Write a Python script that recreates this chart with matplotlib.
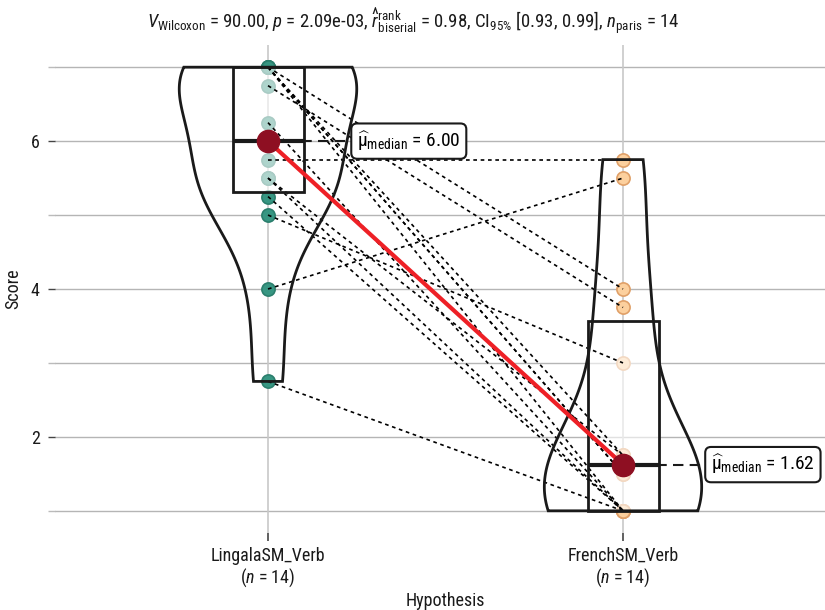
import numpy as np
import matplotlib
matplotlib.use("Agg")
import matplotlib.pyplot as plt
from matplotlib import font_manager
from matplotlib.patches import Polygon, Rectangle

# ---- data -----------------------------------------------------------------
categories = ["LingalaSM_Verb", "FrenchSM_Verb"]
lingala = [2.75, 4.0, 5.75, 5.0, 7.0, 6.75, 7.0, 7.0, 7.0, 7.0, 6.25, 5.5, 5.5, 5.25]
french = [1.0, 5.5, 5.75, 3.0, 4.0, 3.75, 1.75, 1.5, 1.0, 1.5, 1.0, 1.75, 1.0, 1.0]
y_ticks = [2, 4, 6]
y_minor = [1, 3, 5, 7]
stat_title = (r"$V_{\mathrm{Wilcoxon}}$ = 90.00, $p$ = 2.09e-03, "
              r"$\widehat{r}_{\mathrm{biserial}}^{\mathrm{rank}}$ = 0.98, "
              r"CI$_{\mathrm{95\%}}$ [0.93, 0.99], $n_{\mathrm{paris}}$ = 14")
x_title = "Hypothesis"
y_title = "Score"

# ---- fonts ----------------------------------------------------------------
def first_font(names):
    for n in names:
        try:
            font_manager.findfont(n, fallback_to_default=False)
            return n
        except Exception:
            pass
    return "DejaVu Sans"

fam = first_font(["Roboto Condensed", "Liberation Sans Narrow", "DejaVu Sans Condensed", "Roboto"])
plt.rcParams["font.family"] = [fam, "DejaVu Sans"]
plt.rcParams["mathtext.fontset"] = "custom"
plt.rcParams["mathtext.rm"] = fam
plt.rcParams["mathtext.it"] = fam + ":italic"
plt.rcParams["mathtext.bf"] = fam + ":bold"

# ---- helpers --------------------------------------------------------------
def q7(x, p):
    return float(np.quantile(np.asarray(x, float), p))

def bw_nrd0(x):
    x = np.asarray(x, float)
    hi = x.std(ddof=1)
    iqr = q7(x, 0.75) - q7(x, 0.25)
    lo = min(hi, iqr / 1.34)
    return 0.9 * lo * len(x) ** (-0.2)

def kde(x, grid):
    x = np.asarray(x, float)
    bw = bw_nrd0(x)
    z = (grid[:, None] - x[None, :]) / bw
    return np.exp(-0.5 * z ** 2).sum(axis=1) / (len(x) * bw * np.sqrt(2 * np.pi))

groups = [lingala, french]
pos = [1, 2]
pt_face = ["#379682", "#fcd09e"]
pt_edge = ["#2b7f6d", "#e0a068"]

fig = plt.figure(figsize=(8.25, 6.10), dpi=100)
ax = fig.add_axes([55 / 825, (610 - 533) / 610, (836 - 55) / 825, 488 / 610])
ax.set_xlim(0.4, 2.6)
ax.set_ylim(0.7, 7.3)

# grid
for v in y_ticks + y_minor:
    ax.axhline(v, color="#b5b5b5", lw=1.0, zorder=0)
for p in pos:
    ax.axvline(p, color="#c8c8c8", lw=1.2, zorder=0)

# violins (area-scaled, trimmed to data range)
grids = [np.linspace(min(g), max(g), 512) for g in groups]
dens = [kde(g, gr) for g, gr in zip(groups, grids)]
dmax = max(d.max() for d in dens)
for p, gr, d in zip(pos, grids, dens):
    w = 0.25 * d / dmax
    xs = np.concatenate([p - w, (p + w)[::-1]])
    ys = np.concatenate([gr, gr[::-1]])
    ax.add_patch(Polygon(np.column_stack([xs, ys]), closed=True, fill=False,
                         ec="#1a1a1a", lw=2.0, zorder=5))

# raw points
for p, g, fc, ec in zip(pos, groups, pt_face, pt_edge):
    ax.plot([p] * len(g), g, "o", ms=9.5, mfc=fc, mec=ec, mew=1.2, zorder=2)

# boxes (semi-transparent white fill over the points)
bw_box = 0.2
for p, g in zip(pos, groups):
    q1, med, q3 = q7(g, 0.25), q7(g, 0.5), q7(g, 0.75)
    ax.add_patch(Rectangle((p - bw_box / 2, q1), bw_box, q3 - q1, fc="white",
                           alpha=0.6, ec="none", zorder=3))
    ax.add_patch(Rectangle((p - bw_box / 2, q1), bw_box, q3 - q1, fill=False,
                           ec="#1a1a1a", lw=2.0, zorder=5))
    ax.plot([p - bw_box / 2, p + bw_box / 2], [med, med], color="#1a1a1a",
            lw=3.0, solid_capstyle="butt", zorder=5)

# paired lines
for a, b in zip(lingala, french):
    ax.plot([1, 2], [a, b], color="black", lw=1.2, ls=(0, (2.2, 2.2)), zorder=4)

# medians
meds = [float(np.median(g)) for g in groups]
ax.plot(pos, meds, color="#ee2026", lw=3.0, zorder=6)
label_x = [1.237, 2.234]
for p, m, lx in zip(pos, meds, label_x):
    ax.plot([p, lx], [m, m], color="#1a1a1a", lw=1.5, ls=(0, (5, 3)), zorder=6)
    ax.plot([p], [m], "o", ms=16, color="#8e0f22", zorder=7)
    ax.text(lx + 0.014, m, r"$\widehat{\mathrm{\mu}}_{\mathrm{median}}$ = " + f"{m:.2f}",
            ha="left", va="center", fontsize=14, zorder=8,
            bbox=dict(boxstyle="round,pad=0.3,rounding_size=0.3", fc="white",
                      ec="#1a1a1a", lw=1.5))

# axes decoration
for s in ax.spines.values():
    s.set_visible(False)
ax.set_xticks(pos)
ax.set_xticklabels([f"{c}\n($n$ = {len(g)})" for c, g in zip(categories, groups)],
                   fontsize=13, color="#1a1a1a", linespacing=1.1)
ax.set_yticks(y_ticks)
ax.set_yticklabels([str(t) for t in y_ticks], fontsize=13, color="#1a1a1a")
ax.set_yticks(y_minor, minor=True)
ax.tick_params(axis="y", which="major", length=5, width=1.0, color="#444444", pad=6)
ax.tick_params(axis="y", which="minor", length=5, width=1.0, color="#bbbbbb")
ax.tick_params(axis="x", which="major", length=6, width=1.2, color="#444444", pad=4)
ax.set_xlabel(x_title, fontsize=13, color="#1a1a1a", labelpad=2)
ax.set_ylabel(y_title, fontsize=13, color="#1a1a1a", labelpad=6)
fig.text(413 / 825, 1 - 22 / 610, stat_title, ha="center", va="center",
         fontsize=13.5, color="#1a1a1a")

fig.savefig("out.png", dpi=100)
